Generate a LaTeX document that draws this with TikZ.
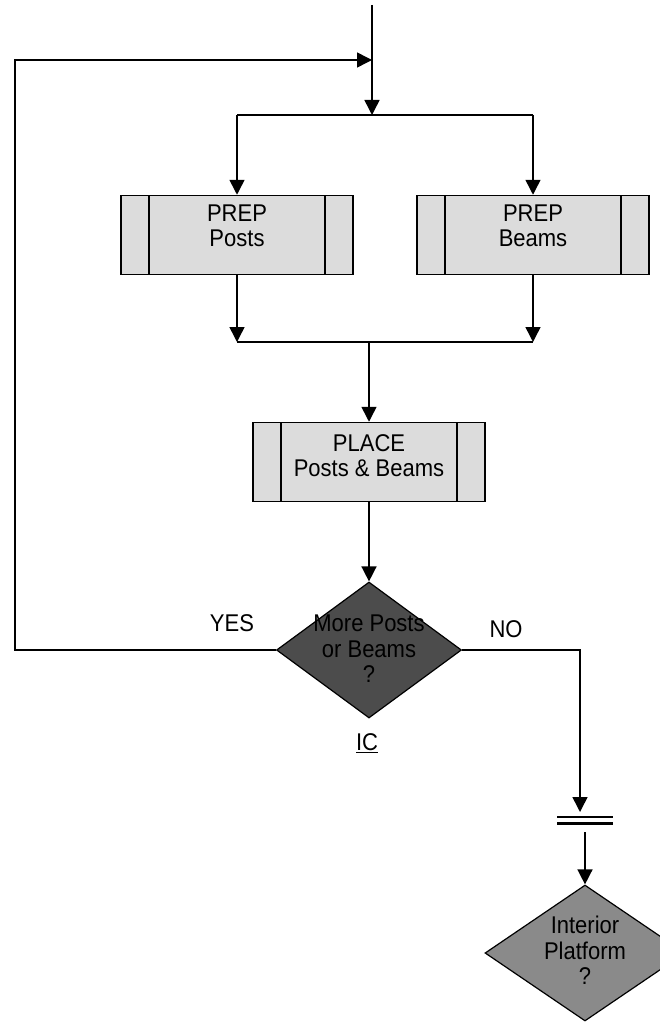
\documentclass[tikz,border=0pt]{standalone}
\usepackage{fontspec}
\usepackage{graphicx}
\setmainfont{Liberation Sans}
\usetikzlibrary{arrows.meta,shapes.geometric}
\definecolor{boxfill}{HTML}{DCDCDC}
\definecolor{darkdia}{HTML}{4C4C4C}
\definecolor{middia}{HTML}{8A8A8A}
\newcommand\vtxt[1]{\scalebox{1}[1.1]{\begin{tabular}{@{}c@{}}#1\end{tabular}}}
\tikzset{
  every node/.style={font=\fontsize{22}{23}\selectfont},
  conn/.style={line width=1.5pt},
  arr/.style={conn,-{Triangle[length=15pt,width=15pt]}},
  procbox/.style={draw,line width=1.5pt,fill=boxfill,minimum width=232pt,minimum height=79pt,inner sep=0pt,
    path picture={
      \draw[line width=1.5pt] ([xshift=28pt]path picture bounding box.north west) -- ([xshift=28pt]path picture bounding box.south west);
      \draw[line width=1.5pt] ([xshift=-28pt]path picture bounding box.north east) -- ([xshift=-28pt]path picture bounding box.south east);
    }},
  decdia/.style={diamond,draw,line width=1.2pt,inner sep=0pt,minimum width=#1,minimum height=136pt},
  lbl/.style={inner sep=0pt}
}
\begin{document}
\begin{tikzpicture}[x=1pt,y=-1pt]
\useasboundingbox (0,0) rectangle (660,1022);
\clip (0,0) rectangle (660,1022);
% coordinates
\coordinate (top) at (372,5);
\coordinate (join) at (372,60);
\coordinate (split) at (372,115);
\coordinate (splitL) at (237,115);
\coordinate (splitR) at (533,115);
\coordinate (mergeL) at (237,342);
\coordinate (mergeR) at (533,342);
\coordinate (merge) at (369,342);
\coordinate (loopA) at (15,650);
\coordinate (loopB) at (15,60);
\coordinate (noA) at (580,650);
\coordinate (barTop) at (580,812);
\coordinate (barBot) at (585,832);
% nodes
\node[procbox] (posts) at (237,235) {};
\node[lbl] (postst) at (237,229) {\vtxt{PREP\\Posts}};
\node[procbox] (beams) at (533,235) {};
\node[lbl] (beamst) at (533,229) {\vtxt{PREP\\Beams}};
\node[procbox] (place) at (369,462) {};
\node[lbl] (placet) at (369,459) {\vtxt{PLACE\\Posts \& Beams}};
\node[decdia=185pt,fill=darkdia] (d1) at (369,650) {};
\node[lbl] (d1t) at (369,652) {\vtxt{More Posts\\or Beams\\?}};
\node[decdia=200pt,fill=middia] (d2) at (585,953) {};
\node[lbl] (d2t) at (585,954) {\vtxt{Interior\\Platform\\?}};
\node[lbl] (yes) at (232,626) {\vtxt{YES}};
\node[lbl] (no) at (506,632) {\vtxt{NO}};
\node[lbl] (ic) at (367,745) {\vtxt{\underline{IC}}};
\node[inner sep=0pt,minimum width=55pt,minimum height=8pt] (bar) at (585,820) {};
\draw[line width=2.6pt] ([yshift=-1pt]bar.north west) -- ([yshift=-1pt]bar.north east);
\draw[line width=2.6pt] ([yshift=1pt]bar.south west) -- ([yshift=1pt]bar.south east);
% connectors
\draw[arr] (top) -- (split);
\draw[conn] (splitL) -- (splitR);
\draw[arr] (splitL) -- (posts.north);
\draw[arr] (splitR) -- (beams.north);
\draw[arr] (posts.south) -- (mergeL);
\draw[arr] (beams.south) -- (mergeR);
\draw[conn] (mergeL) -- (mergeR);
\draw[arr] (merge) -- (place.north);
\draw[arr] (place.south) -- (d1.north);
\draw[arr] (d1.west) -- (loopA) -- (loopB) -- (join);
\draw[arr] (d1.east) -- (noA) -- (barTop);
\draw[arr] (barBot) -- (d2.north);
\end{tikzpicture}
\end{document}
